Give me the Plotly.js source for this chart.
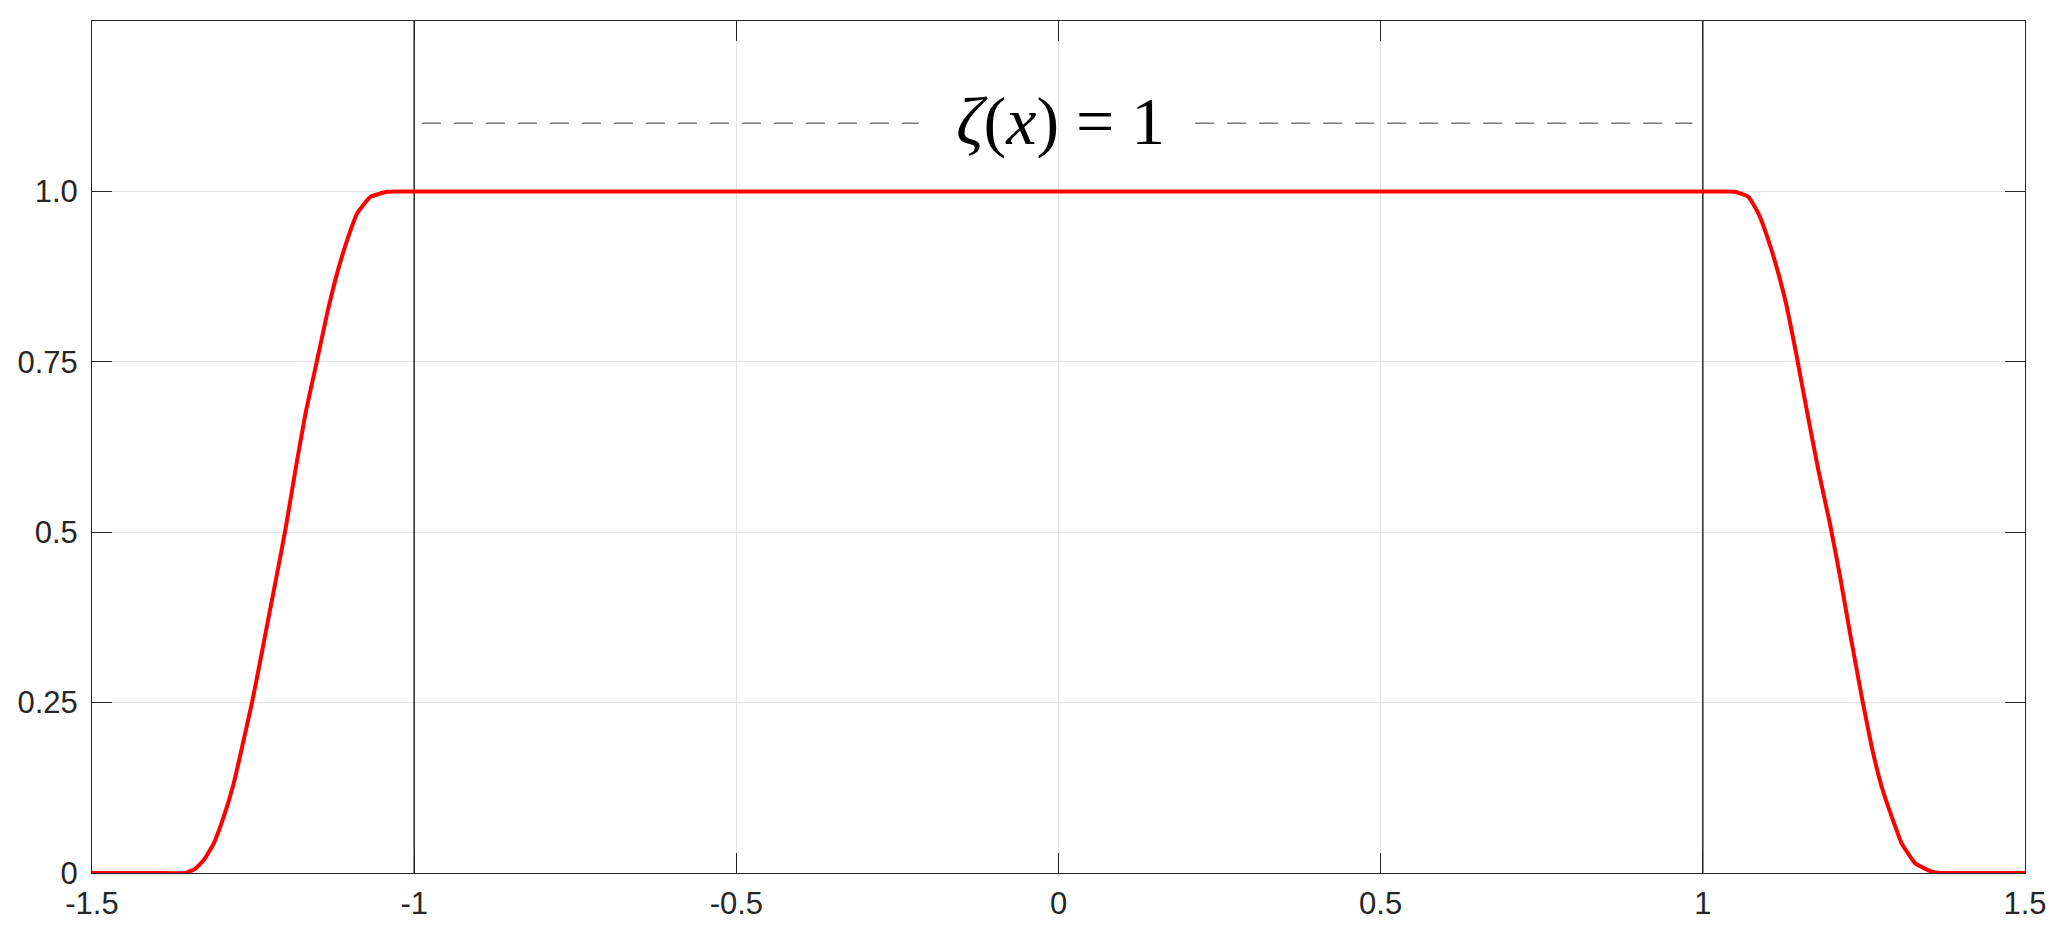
<!DOCTYPE html>
<html>
<head>
<meta charset="utf-8">
<script src="https://cdn.plot.ly/plotly-3.0.1.min.js"></script>
<style>html,body{margin:0;padding:0;background:#fff;}</style>
</head>
<body>
<div id="chart" style="width:2064px;height:948px;"></div>
<script>
// Curve zeta(x)
const curveX = [-1.5, -1.4, -1.355, -1.34, -1.3265, -1.311, -1.2955, -1.280, -1.267, -1.2514, -1.2386, -1.2257, -1.2127, -1.1998, -1.1843, -1.1687, -1.1506, -1.135, -1.1196, -1.104, -1.0885, -1.0679, -1.042, -1.03, -1.0, 0, 1.0, 1.035,
                1.05, 1.0707, 1.0862, 1.1017, 1.1172, 1.1303, 1.1458, 1.1613, 1.1793, 1.1974, 1.213, 1.2285, 1.2466, 1.2621, 1.2776, 1.2931, 1.3086, 1.3295, 1.355, 1.37, 1.4, 1.5];
const curveY = [0, 0, 0, 0.006, 0.019, 0.0435, 0.0826, 0.1316, 0.185, 0.2513, 0.3125, 0.376, 0.4396, 0.504, 0.591, 0.674, 0.7525, 0.821, 0.8797, 0.9286, 0.9677, 0.992, 0.9994, 1, 1, 1, 1, 1,
                0.9995, 0.992, 0.9677, 0.9286, 0.8797, 0.8308, 0.7574, 0.679, 0.591, 0.512, 0.4347, 0.3516, 0.2586, 0.185, 0.1266, 0.0826, 0.0435, 0.0142, 0.002, 0, 0, 0];

// Vertical marker lines
const vLineLeftX = [-1, -1];
const vLineRightX = [1, 1];
const vLineY = [0, 1.25];

// Dashed annotation lines
const dashLeftX = [-0.988, -0.217];
const dashRightX = [0.212, 0.984];
const dashY = [1.1, 1.1];
const labelX = 0.003;
const labelY = 1.104;
const labelText = '<i>ζ</i>(<i>x</i>) = 1';

// Tick labels
const xTickVals = [-1.5, -1, -0.5, 0, 0.5, 1, 1.5];
const xTickText = ['-1.5', '-1', '-0.5', '0', '0.5', '1', '1.5'];
const yTickVals = [0, 0.25, 0.5, 0.75, 1.0];
const yTickText = ['0', '0.25', '0.5', '0.75', '1.0'];

const traces = [
  {x: vLineLeftX, y: vLineY, mode: 'lines', line: {color: '#1a1a1a', width: 1.4}, hoverinfo: 'skip'},
  {x: vLineRightX, y: vLineY, mode: 'lines', line: {color: '#1a1a1a', width: 1.4}, hoverinfo: 'skip'},
  {x: dashLeftX, y: dashY, mode: 'lines', line: {color: '#777777', width: 1.5, dash: '19px,13px'}, hoverinfo: 'skip'},
  {x: dashRightX, y: dashY, mode: 'lines', line: {color: '#777777', width: 1.5, dash: '19px,13px'}, hoverinfo: 'skip'},
  {x: curveX, y: curveY, mode: 'lines', line: {color: '#ff0000', width: 4, shape: 'spline', smoothing: 0.4}}
];

const axisCommon = {
  showline: true, linecolor: '#262626', linewidth: 1, mirror: 'allticks',
  ticks: 'inside', ticklen: 20, tickwidth: 1, tickcolor: '#262626',
  showgrid: true, gridcolor: '#e3e3e3', gridwidth: 1,
  zeroline: false,
  tickfont: {family: 'Liberation Sans, Arial, sans-serif', size: 31, color: '#262626'},
  tickmode: 'array'
};

const layout = {
  width: 2064, height: 948,
  margin: {l: 91.5, r: 39, t: 21, b: 75},
  paper_bgcolor: '#ffffff', plot_bgcolor: '#ffffff',
  showlegend: false,
  xaxis: Object.assign({}, axisCommon, {range: [-1.5, 1.5], tickvals: xTickVals, ticktext: xTickText, ticklabelstandoff: 3}),
  yaxis: Object.assign({}, axisCommon, {range: [0, 1.25], tickvals: yTickVals, ticktext: yTickText, ticklabelstandoff: 7}),
  annotations: [{
    x: labelX, y: labelY, xref: 'x', yref: 'y', text: labelText, showarrow: false,
    font: {family: 'Liberation Serif, DejaVu Serif, serif', size: 68, color: '#000000'},
    xanchor: 'center', yanchor: 'middle'
  }]
};

Plotly.newPlot('chart', traces, layout, {staticPlot: true, displayModeBar: false});
</script>
</body>
</html>
